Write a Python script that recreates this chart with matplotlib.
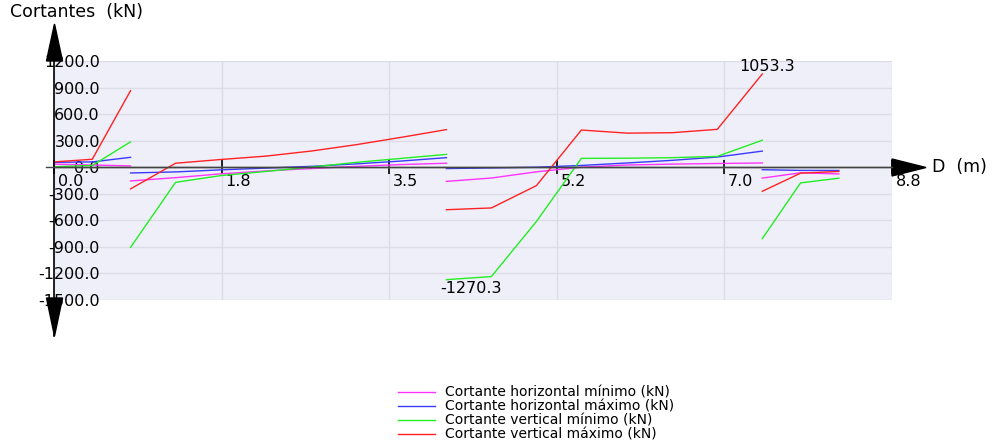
import matplotlib
matplotlib.use("Agg")
import matplotlib.pyplot as plt
from matplotlib.patches import Polygon
from matplotlib.lines import Line2D
from matplotlib.transforms import ScaledTranslation

plt.rcParams["font.family"] = ["DejaVu Sans"]

W, H = 998, 446

# estaciones de cálculo en cada vano (m)
x_vanos = [
    [0.00, 0.40, 0.80],
    [0.80, 1.27, 1.74, 2.21, 2.69, 3.16, 3.63, 4.10],
    [4.10, 4.57, 5.04, 5.51, 5.99, 6.46, 6.93, 7.40],
    [7.40, 7.80, 8.20],
]

# cortantes por vano (kN)
horiz_min = [
    [35, 25, 15],
    [-155, -118, -75, -42, -15, 10, 30, 45],
    [-160, -122, -52, 0, 25, 35, 42, 48],
    [-123, -63, -76],
]
horiz_max = [
    [55, 60, 112],
    [-65, -53, -30, -10, 10, 38, 70, 108],
    [-15, -8, 0, 20, 48, 78, 115, 182],
    [-28, -36, -37],
]
vert_min = [
    [5, 20, 287],
    [-905, -171, -95, -48, 2, 55, 100, 145],
    [-1270.3, -1235, -613, 100, 102, 108, 122, 305],
    [-807, -177, -124],
]
vert_max = [
    [60, 90, 865],
    [-245, 45, 87, 125, 183, 255, 338, 425],
    [-480, -460, -208, 420, 385, 390, 428, 1053.3],
    [-272, -67, -48],
]

series = [
    ("Cortante horizontal mínimo (kN)", horiz_min, "#ff33ff"),
    ("Cortante horizontal máximo (kN)", horiz_max, "#3a3aff"),
    ("Cortante vertical mínimo (kN)", vert_min, "#22ee22"),
    ("Cortante vertical máximo (kN)", vert_max, "#ff2222"),
]

x_ticks = [0.0, 1.75, 3.5, 5.25, 7.0, 8.75]
y_ticks = [-1500, -1200, -900, -600, -300, 0, 300, 600, 900, 1200]


def fig_xy(px, py):
    return px / W, 1 - py / H


fig = plt.figure(figsize=(W / 100, H / 100), dpi=100)
ax = fig.add_axes([54 / W, 1 - 300 / H, (891.5 - 54) / W, (300 - 61) / H])
ax.set_facecolor("#efeffa")
ax.set_xlim(0, 8.75)
ax.set_ylim(-1500, 1200)

ax.set_xticks(x_ticks)
ax.set_xticklabels([f"{v:.1f}" for v in x_ticks])
ax.set_yticks(y_ticks)
ax.set_yticklabels([f"{v:.1f}" for v in y_ticks])
ax.grid(True, color="#dcdce4", lw=1.0)
ax.set_axisbelow(True)

for s in ("top", "right", "left"):
    ax.spines[s].set_visible(False)
ax.spines["bottom"].set_position(("data", 0))
ax.spines["bottom"].set_color("#444444")
ax.spines["bottom"].set_linewidth(1.0)

ax.tick_params(axis="y", length=0, pad=-33, labelsize=11.5, labelcolor="black")
ax.tick_params(axis="x", direction="inout", length=9.7, width=1.2, color="black",
               pad=0, labelsize=11.5)
shift = ScaledTranslation(4 / 100, 0, fig.dpi_scale_trans)
for lab in ax.get_xticklabels():
    lab.set_horizontalalignment("left")
    lab.set_transform(lab.get_transform() + shift)

for label, datos, color in series:
    for i, (xs, ys) in enumerate(zip(x_vanos, datos)):
        ax.plot(xs, ys, color=color, lw=1.0, label=label if i == 0 else None)

# valores extremos
ax.annotate(f"{vert_max[2][-1]:.1f}", xy=(x_vanos[2][-1], vert_max[2][-1]),
            xytext=(5, 3), textcoords="offset pixels", ha="center", va="baseline",
            fontsize=11.5, annotation_clip=False)
ax.annotate(f"{vert_min[2][0]:.1f}", xy=(x_vanos[2][0], vert_min[2][0]),
            xytext=(25, -13), textcoords="offset pixels", ha="center", va="baseline",
            fontsize=11.5, annotation_clip=False)

# ejes con flechas
fig.add_artist(Line2D(*zip(fig_xy(54, 27), fig_xy(54, 336)), color="black", lw=1.2))
fig.add_artist(Line2D(*zip(fig_xy(46, 167.5), fig_xy(892, 167.5)), color="#444444", lw=1.0))
for tri in ([(46.5, 61), (62.5, 61), (54.5, 24)],
            [(46.5, 298), (62.5, 298), (54.5, 336)],
            [(892, 159), (892, 176), (926, 167.5)]):
    fig.add_artist(Polygon([fig_xy(*p) for p in tri], closed=True,
                           transform=fig.transFigure, color="black"))

fig.text(*fig_xy(10, 3), "Cortantes  (kN)", fontsize=12.5, va="top", ha="left")
fig.text(*fig_xy(932, 167.5), "D  (m)", fontsize=12.5, va="center", ha="left")

fig.legend(loc="upper left", bbox_to_anchor=fig_xy(398, 386), frameon=False,
           fontsize=10, handlelength=2.66, handletextpad=0.72, labelspacing=0.0,
           borderpad=0, borderaxespad=0)

fig.savefig("out.png", dpi=100)
